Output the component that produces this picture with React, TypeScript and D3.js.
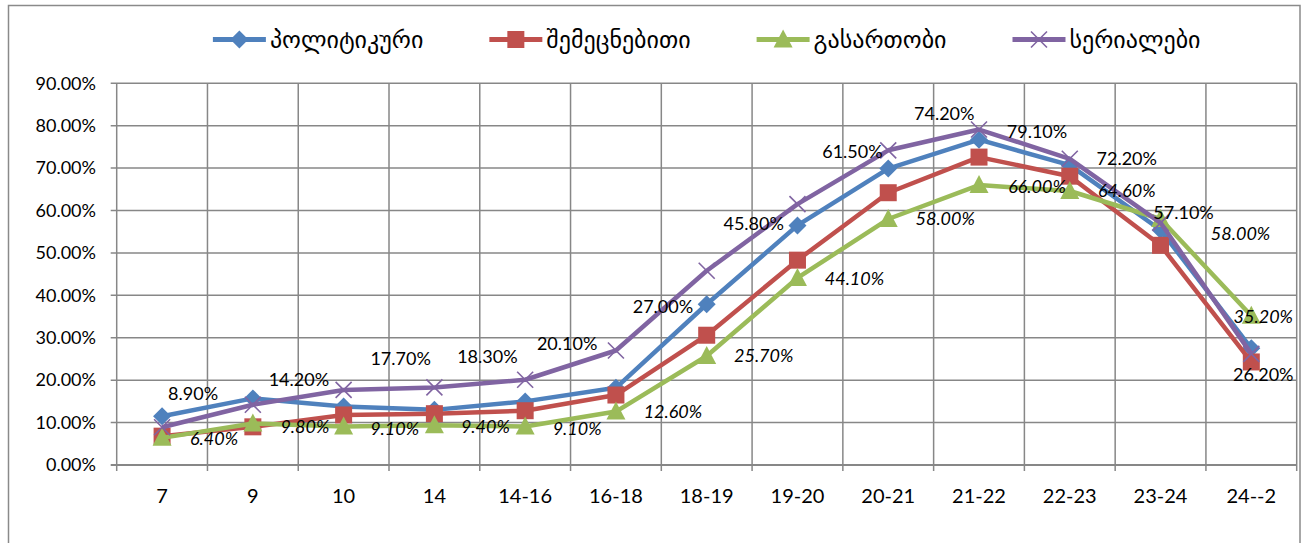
import React from "react";
import * as d3 from "d3";

// categories (time slots) and the four series, in percent
const categories = ["7", "9", "10", "14", "14-16", "16-18", "18-19", "19-20", "20-21", "21-22", "22-23", "23-24", "24--2"];
const political = [11.5, 15.7, 13.8, 13.0, 15.0, 18.2, 37.9, 56.5, 69.9, 76.7, 70.7, 55.4, 27.5];
const educational = [6.8, 9.0, 11.8, 12.1, 12.8, 16.5, 30.6, 48.3, 64.2, 72.6, 68.1, 51.8, 24.3];
const entertainment = [6.4, 9.8, 9.1, 9.4, 9.1, 12.6, 25.7, 44.1, 58.0, 66.0, 64.6, 58.0, 35.2];
const serials = [8.9, 14.2, 17.7, 18.3, 20.1, 27.0, 45.8, 61.5, 74.2, 79.1, 72.2, 57.1, 26.2];
const yTicks = [0, 10, 20, 30, 40, 50, 60, 70, 80, 90];
const seriesNames = ["პოლიტიკური", "შემეცნებითი", "გასართობი", "სერიალები"];

// hand-placed label nudges (like the dragged Excel labels)
const serialsLabelNudge = [[31, -34], [46, -25], [57, -31], [53, -31], [42, -36], [47, -44], [47, -47], [55, -52], [56, -37], [58, 2], [57, 0], [23, -10], [12, 21]];
const entLabelNudge = [[52, 1], [52, 3], [51, 2], [51, 2], [52, 2], [57, 0], [57, 0], [57, 1], [57, 0], [58, 2], [57, 0], [80, 15], [12, 1]];

const W = 1302;
const H = 543;
const plot = { left: 116.7, right: 1296.7, top: 83.3, bottom: 465 };
const grid = "#878787";
const numFont = "Lato, 'Open Sans', sans-serif";
const geoFont = "'DejaVu Sans', sans-serif";

const series = [
  { name: seriesNames[0], values: political, color: "#4F81BD", marker: "diamond" },
  { name: seriesNames[1], values: educational, color: "#C0504D", marker: "square" },
  { name: seriesNames[2], values: entertainment, color: "#9BBB59", marker: "triangle" },
  { name: seriesNames[3], values: serials, color: "#8064A2", marker: "x" },
];

const Marker = ({ type, x, y, color }: { type: string; x: number; y: number; color: string }) => {
  if (type === "diamond") {
    return <path d={`M${x},${y - 9}L${x + 9},${y}L${x},${y + 9}L${x - 9},${y}Z`} fill={color} />;
  }
  if (type === "square") {
    return <rect x={x - 8.5} y={y - 8.5} width={17} height={17} fill={color} />;
  }
  if (type === "triangle") {
    return <path d={`M${x},${y - 10}L${x + 9.5},${y + 8}L${x - 9.5},${y + 8}Z`} fill={color} />;
  }
  return (
    <path d={`M${x - 8},${y - 8}L${x + 8},${y + 8}M${x - 8},${y + 8}L${x + 8},${y - 8}`} stroke={color} strokeWidth={1.6} fill="none" />
  );
};

const measure = (text: string, font: string) => {
  const c = document.createElement("canvas").getContext("2d");
  if (!c) return text.length * 16;
  c.font = font;
  return c.measureText(text).width;
};

const App = () => {
  const x = d3.scaleBand().domain(categories).range([plot.left, plot.right]);
  const y = d3.scaleLinear().domain([0, 90]).range([plot.bottom, plot.top]);
  const cx = (c: string) => (x(c) as number) + x.bandwidth() / 2;

  const line = d3
    .line<number>()
    .x((_, i) => cx(categories[i]))
    .y((d) => y(d));

  // legend layout
  const legendSize = 24;
  const lineLen = 53;
  const gapText = 4;
  const gapItem = 66;
  const widths = series.map((s) => measure(s.name, `${legendSize}px 'DejaVu Sans'`));
  const total = widths.reduce((a, w) => a + lineLen + gapText + w, 0) + gapItem * (series.length - 1);
  let lx = (plot.left + plot.right) / 2 - total / 2;
  const legendItems = series.map((s, i) => {
    const item = { ...s, x: lx };
    lx += lineLen + gapText + widths[i] + gapItem;
    return item;
  });
  const ly = 39.5;

  return (
    <svg width={W} height={H} style={{ position: "absolute", left: 0, top: 0, background: "#fff" }}>
      <rect x={8.5} y={5.5} width={1291.5} height={H} fill="#fff" stroke="#8a8a8a" strokeWidth={1.5} />

      {/* grid */}
      {yTicks.map((t) => (
        <line key={"h" + t} x1={plot.left - 6} x2={plot.right} y1={y(t)} y2={y(t)} stroke={grid} strokeWidth={t === 0 ? 2 : 1.5} />
      ))}
      {categories.map((c) => (
        <line key={"v" + c} x1={x(c)} x2={x(c)} y1={plot.top} y2={plot.bottom + 6} stroke={grid} strokeWidth={1.5} />
      ))}
      <line x1={plot.right} x2={plot.right} y1={plot.top} y2={plot.bottom + 6} stroke={grid} strokeWidth={1.5} />

      {/* axis labels */}
      {yTicks.map((t) => (
        <text key={"yl" + t} x={96} y={y(t)} dy="0.35em" textAnchor="end" fontFamily={numFont} fontSize={18} fill="#000">
          {t.toFixed(2)}%
        </text>
      ))}
      {categories.map((c) => (
        <text key={"xl" + c} x={cx(c)} y={496} dy="0.35em" textAnchor="middle" fontFamily={numFont} fontSize={20} fill="#000">
          {c}
        </text>
      ))}

      {/* series */}
      {series.map((s) => (
        <g key={s.name}>
          <path d={line(s.values) || ""} fill="none" stroke={s.color} strokeWidth={4.5} strokeLinejoin="round" />
          {s.values.map((v, i) => (
            <Marker key={i} type={s.marker} x={cx(categories[i])} y={y(v)} color={s.color} />
          ))}
        </g>
      ))}

      {/* data labels */}
      {entertainment.map((v, i) => (
        <text
          key={"el" + i}
          x={cx(categories[i]) + entLabelNudge[i][0]}
          y={y(v) + entLabelNudge[i][1]}
          dy="0.35em"
          textAnchor="middle"
          fontFamily={numFont}
          fontStyle="italic"
          fontSize={18}
          fill="#000"
        >
          {v.toFixed(2)}%
        </text>
      ))}
      {serials.map((v, i) => (
        <text
          key={"sl" + i}
          x={cx(categories[i]) + serialsLabelNudge[i][0]}
          y={y(v) + serialsLabelNudge[i][1]}
          dy="0.35em"
          textAnchor="middle"
          fontFamily={numFont}
          fontSize={18}
          fill="#000"
        >
          {v.toFixed(2)}%
        </text>
      ))}

      {/* legend */}
      {legendItems.map((s) => (
        <g key={"lg" + s.name}>
          <line x1={s.x} x2={s.x + lineLen} y1={ly} y2={ly} stroke={s.color} strokeWidth={5} />
          <Marker type={s.marker} x={s.x + lineLen / 2} y={ly} color={s.color} />
          <text x={s.x + lineLen + gapText} y={ly} dy="0.35em" fontFamily={geoFont} fontSize={legendSize} fill="#000">
            {s.name}
          </text>
        </g>
      ))}
    </svg>
  );
};

export default App;
